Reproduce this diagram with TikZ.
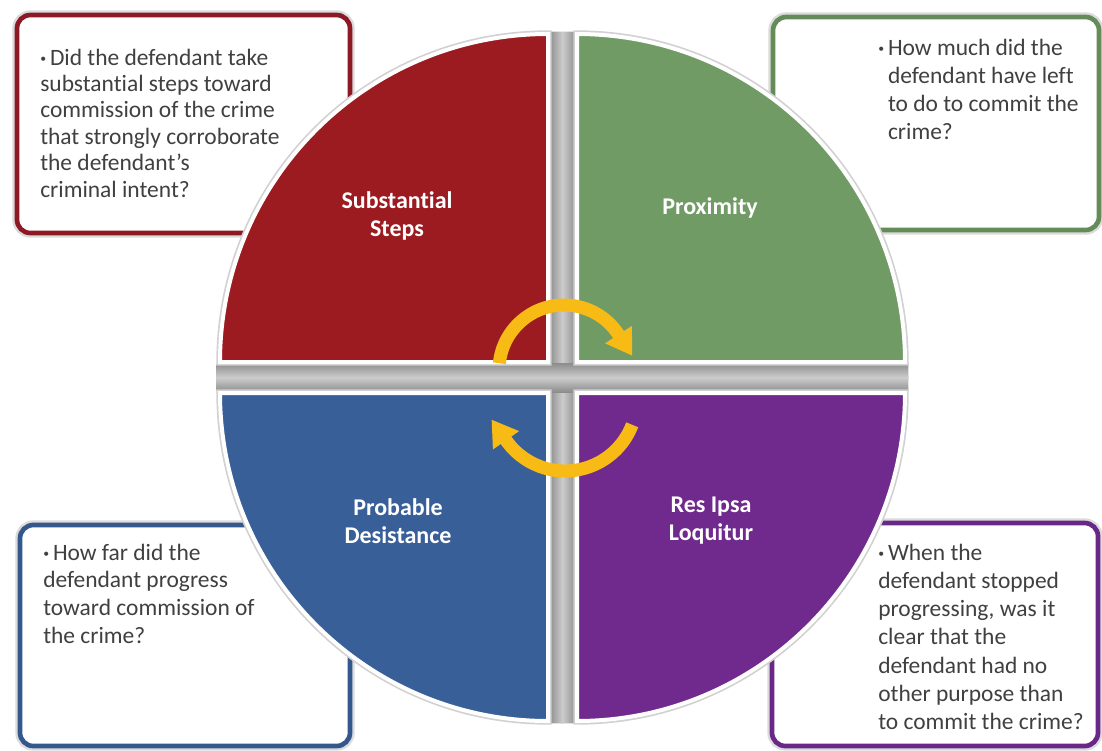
\documentclass[tikz,border=0pt]{standalone}
\usepackage{fontspec}
\usepackage{graphicx}
\setmainfont{Carlito}[Ligatures=NoCommon]
\usetikzlibrary{calc}
\definecolor{qred}{RGB}{155,27,32}
\definecolor{qgreen}{RGB}{112,155,100}
\definecolor{qblue}{RGB}{56,95,152}
\definecolor{qpurple}{RGB}{112,42,142}
\definecolor{bred}{RGB}{140,25,35}
\definecolor{bgreen}{RGB}{100,140,88}
\definecolor{bblue}{RGB}{52,88,140}
\definecolor{bpurple}{RGB}{105,40,135}
\definecolor{arrowyellow}{RGB}{248,186,20}
\definecolor{txt}{RGB}{64,64,64}
\newcommand{\smallbul}{\raisebox{0.12em}{\scalebox{0.5}{\textbullet}}}
\tikzset{
  qbox/.style={fill=white, line width=3.5pt, rounded corners=10pt,
    preaction={draw=black!14, line width=7pt}},
  qtext/.style={inner sep=0pt, anchor=base west, text=txt,
    font=\fontsize{17.6}{20.5}\selectfont},
  quad/.style={draw=white, line width=3pt, preaction={draw=black!18, line width=5.5pt}},
  qlabel/.style={inner sep=0pt, text=white, align=center,
    font=\fontsize{18}{21}\selectfont\bfseries},
  yarc/.style={draw=arrowyellow, line width=9.75pt},
  yhead/.style={fill=arrowyellow}
}
\begin{document}
\begin{tikzpicture}[x=0.75pt,y=-0.75pt]
\useasboundingbox (0,0) rectangle (1102,750);
\fill[white] (0,0) rectangle (1102,750);
% corner boxes
\draw[qbox, draw=bred] (17,15) rectangle (350,233);
\draw[qbox, draw=bgreen] (773,17) rectangle (1099,230);
\draw[qbox, draw=bblue] (20,525) rectangle (350,746);
\draw[qbox, draw=bpurple] (772,523) rectangle (1098,746);
% box texts
\node[qtext, font=\fontsize{17.6}{19.8}\selectfont] (tred) at (40,65)
  {\begin{tabular}[t]{@{}l@{}}\smallbul\,Did the defendant take\\substantial steps toward\\commission of the crime\\that strongly corroborate\\the defendant’s\\criminal intent?\end{tabular}};
\node[qtext, font=\fontsize{17.6}{21.2}\selectfont] (tgreen) at (878,55)
  {\begin{tabular}[t]{@{}l@{\,}l@{}}\smallbul & How much did the\\ & defendant have left\\ & to do to commit the\\ & crime?\end{tabular}};
\node[qtext, font=\fontsize{17.6}{20.8}\selectfont] (tblue) at (43,560)
  {\begin{tabular}[t]{@{}l@{}}\smallbul\,How far did the\\defendant progress\\toward commission of\\the crime?\end{tabular}};
\node[qtext, font=\fontsize{17.6}{21.2}\selectfont] (tpurple) at (878,560)
  {\begin{tabular}[t]{@{}l@{}}\smallbul\,When the\\defendant stopped\\progressing, was it\\clear that the\\defendant had no\\other purpose than\\to commit the crime?\end{tabular}};
% gray cross
\begin{scope}
  \clip (562.5,377.5) circle (346);
  \shade[left color=black!45, right color=black!45, middle color=black!20] (549,20) rectangle (576,740);
  \shade[top color=black!45, bottom color=black!45, middle color=black!20] (200,363) rectangle (925,392);
\end{scope}
% quadrants
\filldraw[quad, fill=qred] (548,362) -- (220,362) arc[start angle=180, end angle=270, radius=328] -- cycle;
\filldraw[quad, fill=qgreen] (577,362) -- (577,34) arc[start angle=270, end angle=360, radius=328] -- cycle;
\filldraw[quad, fill=qblue] (548,393) -- (220,393) arc[start angle=180, end angle=90, radius=328] -- cycle;
\filldraw[quad, fill=qpurple] (577,393) -- (905,393) arc[start angle=0, end angle=90, radius=328] -- cycle;
% labels
\node[qlabel] (lred) at (397,216) {Substantial\\Steps};
\node[qlabel] (lgreen) at (710,208) {Proximity};
\node[qlabel] (lblue) at (398,521) {Probable\\Desistance};
\node[qlabel] (lpurple) at (711,521) {Res Ipsa\\Loquitur};
% cycle arrows
\coordinate (ct) at (564,370);
\draw[yarc] ($(ct)+(186:65)$) arc[start angle=186, end angle=329, radius=65];
\fill[yhead] ($(ct)+(327:65)+(327:16)$) -- ($(ct)+(327:65)+(327:-16)$) -- ($(ct)+(327:65)+(57:25)$) -- cycle;
\coordinate (cb) at (565,399);
\draw[yarc] ($(cb)+(21:72)$) arc[start angle=21, end angle=147, radius=72];
\fill[yhead] ($(cb)+(145:72)+(145:16)$) -- ($(cb)+(145:72)+(145:-16)$) -- ($(cb)+(145:72)+(235:25)$) -- cycle;
\end{tikzpicture}
\end{document}
